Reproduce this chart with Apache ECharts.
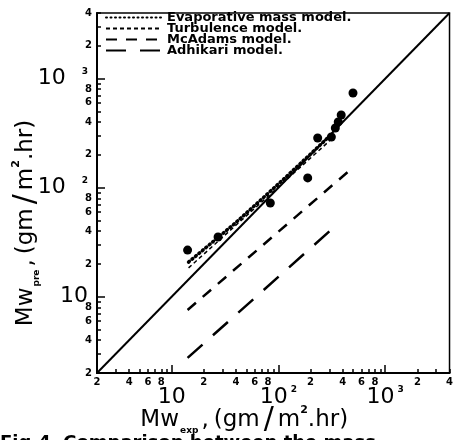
<!DOCTYPE html>
<html>
<head>
<meta charset="utf-8">
<title>Mw pre vs exp</title>
<script src="https://cdn.jsdelivr.net/npm/echarts@6.0.0/dist/echarts.min.js"></script>
<style>
  html, body { margin: 0; padding: 0; background: #fff; }
  #chart { width: 456px; height: 440px; }
</style>
</head>
<body>
<div id="chart"></div>
<script>
// axis range, same on both axes (gm/m2.hr)
const axisMin = 2;
const axisMax = 4000;

// ticks and tick labels
const minorTicks = [2, 3, 4, 5, 6, 7, 8, 9, 20, 30, 40, 50, 60, 70, 80, 90,
  200, 300, 400, 500, 600, 700, 800, 900, 2000, 3000, 4000];
const smallLabels = [2, 4, 6, 8, 20, 40, 60, 80, 200, 400, 600, 800, 2000, 4000];
const decadeTicks = [10, 100, 1000];

// measured points [Mw exp, Mw pre]
const measured = [[14.1, 26.8], [27.2, 35.3], [83.9, 72.4], [188, 123], [233, 286],
  [313, 292], [341, 353], [363, 401], [387, 464], [499, 739]];

// model lines
const evaporative = [[14.4, 20.8], [40, 48], [110, 118], [300, 296]];
const turbulence = [[14.4, 18.4], [300, 268]];
const mcadams = [[14.1, 7.57], [479, 148]];
const adhikari = [[14.1, 2.75], [334, 43.7]];
const diagonal = [[2, 2], [4000, 4000]];

const font = 'DejaVu Sans';
const lg = Math.log10;

function mantissa(v) {
  const e = Math.floor(v + 1e-9);
  return String(Math.round(Math.pow(10, v - e)));
}
function decadeLabel(v) {
  const n = Math.round(v);
  return n === 1 ? '{d|10}' : '{d|10}{s|' + n + '}';
}

const smallLabelStyle = { fontFamily: font, fontSize: 10, fontWeight: 'bold', color: '#000' };

// axis title pieces (Mw with subscript, unit with m squared)
const titleRich = {
  m: { fontFamily: font, fontSize: 23, color: '#000' },
  m2: { fontFamily: font, fontSize: 23, color: '#000', padding: [0, 0, 0, 5] },
  sb: { fontFamily: font, fontSize: 9, fontWeight: 'bold', color: '#000', verticalAlign: 'bottom', padding: [0, 3, 0, 1] },
  sl: { fontFamily: font, fontSize: 30, color: '#000', padding: [0, 4, 0, 4] },
  sp: { fontFamily: font, fontSize: 11, fontWeight: 'bold', color: '#000', verticalAlign: 'top' }
};

// x axes: 0 = log axis for the data, 1 = minor ticks, 2 = decades
const xAxes = [
  {
    type: 'log', logBase: 10, min: axisMin, max: axisMax, position: 'bottom',
    axisLine: { show: false }, axisTick: { show: false }, axisLabel: { show: false },
    splitLine: { show: false },
    name: '{m|Mw}{sb|exp}{m|,}{m2|(gm}{sl|/}{m|m}{sp|2}{m|.hr)}',
    nameLocation: 'middle', nameGap: 32,
    nameTextStyle: { padding: [0, 58, 0, 0], rich: titleRich }
  },
  {
    type: 'value', min: lg(axisMin), max: lg(axisMax), position: 'bottom',
    axisLine: { show: true, lineStyle: { color: '#000', width: 2 } },
    axisTick: { show: true, inside: true, length: 4, customValues: minorTicks.map(lg), lineStyle: { color: '#000', width: 1.5 } },
    axisLabel: { show: true, margin: 4, customValues: smallLabels.map(lg), formatter: mantissa, ...smallLabelStyle },
    splitLine: { show: false }
  },
  {
    type: 'value', min: lg(axisMin), max: lg(axisMax), position: 'bottom',
    axisLine: { show: false },
    axisTick: { show: true, inside: true, length: 8, customValues: decadeTicks.map(lg), lineStyle: { color: '#000', width: 1.5 } },
    axisLabel: {
      show: true, margin: 12, customValues: decadeTicks.map(lg), formatter: decadeLabel,
      rich: {
        d: { fontFamily: font, fontSize: 22, color: '#000', lineHeight: 24 },
        s: { fontFamily: font, fontSize: 9, fontWeight: 'bold', color: '#000', verticalAlign: 'top', padding: [0, 0, 0, 3] }
      }
    },
    splitLine: { show: false }
  }
];

const yAxes = [
  {
    type: 'log', logBase: 10, min: axisMin, max: axisMax, position: 'left',
    axisLine: { show: false }, axisTick: { show: false }, axisLabel: { show: false },
    splitLine: { show: false },
    name: '{m|Mw}{sb|pre}{m|,}{m2|(gm}{sl|/}{m|m}{sp|2}{m|.hr)}',
    nameLocation: 'middle', nameGap: 56, nameRotate: 90,
    nameTextStyle: { padding: [0, 60, 0, 0], rich: titleRich }
  },
  {
    type: 'value', min: lg(axisMin), max: lg(axisMax), position: 'left',
    axisLine: { show: true, lineStyle: { color: '#000', width: 2 } },
    axisTick: { show: true, inside: true, length: 4, customValues: minorTicks.map(lg), lineStyle: { color: '#000', width: 1.5 } },
    axisLabel: { show: true, margin: 5, customValues: smallLabels.map(lg), formatter: mantissa, ...smallLabelStyle },
    splitLine: { show: false }
  },
  {
    type: 'value', min: lg(axisMin), max: lg(axisMax), position: 'left',
    axisLine: { show: false },
    axisTick: { show: true, inside: true, length: 8, customValues: decadeTicks.map(lg), lineStyle: { color: '#000', width: 1.5 } },
    axisLabel: {
      show: true, margin: 9, customValues: decadeTicks.map(lg), formatter: decadeLabel,
      rich: {
        d: { fontFamily: font, fontSize: 22, color: '#000', lineHeight: 24 },
        s: { fontFamily: font, fontSize: 9, fontWeight: 'bold', color: '#000', verticalAlign: 'top', padding: [0, 0, 0, 16] }
      }
    },
    splitLine: { show: false }
  }
];

function modelLine(name, data, width, dash, cap) {
  return {
    name: name, type: 'line', data: data, xAxisIndex: 0, yAxisIndex: 0,
    symbol: 'none', silent: true, z: 3, color: '#000',
    lineStyle: { color: '#000', width: width, type: dash, cap: cap || 'butt' }
  };
}

const option = {
  animation: false,
  backgroundColor: '#fff',
  grid: { left: 97, top: 13, right: 1, bottom: 67, show: true, borderColor: '#000', borderWidth: 1.5 },
  xAxis: xAxes,
  yAxis: yAxes,
  legend: {
    orient: 'vertical', left: 100, top: 6, itemWidth: 56, itemHeight: 8, itemGap: -2,
    selectedMode: false,
    itemStyle: { opacity: 0 },
    data: ['Evaporative mass model.', 'Turbulence model.', 'McAdams model.', 'Adhikari model.'],
    textStyle: { fontFamily: font, fontSize: 13, fontWeight: 'bold', color: '#000', lineHeight: 11 }
  },
  graphic: [{
    type: 'text', left: 0, top: 434,
    style: { text: 'Fig.4  Comparison between the mass', fontFamily: font, fontSize: 18, fontWeight: 'bold', fill: '#000' }
  }],
  series: [
    modelLine('Evaporative mass model.', evaporative, 3.5, [1, 3.5], 'round'),
    modelLine('Turbulence model.', turbulence, 1.5, [4, 3]),
    modelLine('McAdams model.', mcadams, 2.5, [11, 9]),
    modelLine('Adhikari model.', adhikari, 2.5, [20, 14]),
    modelLine('y = x', diagonal, 2, 'solid'),
    {
      name: 'measured', type: 'scatter', data: measured, xAxisIndex: 0, yAxisIndex: 0,
      symbol: 'circle', symbolSize: 9, itemStyle: { color: '#000', opacity: 1 }, z: 4
    }
  ]
};

const myChart = echarts.init(document.getElementById('chart'));
myChart.setOption(option);
</script>
</body>
</html>
